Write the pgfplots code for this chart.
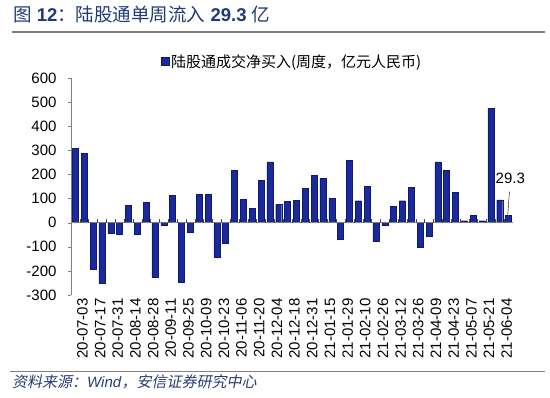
\documentclass[border=0pt]{standalone}
\usepackage{pgfplots}
\usepackage{pgfplotstable}
\pgfplotsset{compat=1.18}
\usepackage{fontspec}
\setmainfont{Liberation Sans}
\newfontfamily\cjk{Noto Sans CJK SC}
\newfontfamily\cjkit[FakeSlant=0.2]{Noto Sans CJK SC}
\definecolor{barblue}{RGB}{26,42,155}
\definecolor{baredge}{RGB}{15,25,110}
\definecolor{titleblue}{RGB}{31,58,120}
\definecolor{srcblue}{RGB}{40,60,115}
\pgfplotstableread{
x y
0 308
1 288
2 -194
3 -252
4 -44
5 -48
6 72
7 -46
8 83
9 -227
10 -10
11 112
12 -249
13 -41
14 116
15 116
16 -143
17 -86
18 218
19 98
20 59
21 176
22 252
23 76
24 88
25 93
26 141
27 196
28 185
29 101
30 -69
31 257
32 91
33 151
34 -76
35 -11
36 69
37 91
38 147
39 -101
40 -55
41 252
42 216
43 127
44 8
45 30
46 8
47 474
48 94
49 29.3
}\datatable
\begin{document}
\begin{tikzpicture}
\useasboundingbox (0pt,0pt) rectangle (550pt,398pt);
\node[anchor=west, text=titleblue, inner sep=0pt] at (13pt,383pt) {\fontsize{18.5}{21}\selectfont{\cjk 图} \textbf{12}{\cjk ：陆股通单周流入} \textbf{29.3} {\cjk 亿}};
\draw[gray, line width=1.2pt] (12pt,366pt) -- (545pt,366pt);
\draw[gray, line width=1pt] (10pt,26pt) -- (545pt,26pt);
\node[anchor=west, text=srcblue, inner sep=0pt] at (12pt,16pt) {\fontsize{15}{17}\selectfont{\cjkit 资料来源：}\textit{Wind}{\cjkit ，安信证券研究中心}};
\begin{axis}[
  at={(71pt,103pt)}, anchor=south west,
  scale only axis, width=442pt, height=217pt,
  xmin=-0.5, xmax=49.5, ymin=-300, ymax=600,
  axis lines*=left,
  axis line style={draw=gray},
  x axis line style={draw=none},
  xtick style={draw=none},
  ytick style={draw=gray},
  ytick align=outside,
  major tick length=3pt,
  ytick={-300,-200,...,600},
  xtick={0,2,...,48},
  xticklabels={20-07-03,20-07-17,20-07-31,20-08-14,20-08-28,20-09-11,20-09-25,20-10-09,20-10-23,20-11-06,20-11-20,20-12-04,20-12-18,20-12-31,21-01-15,21-01-29,21-02-10,21-02-26,21-03-12,21-03-26,21-04-09,21-04-23,21-05-07,21-05-21,21-06-04},
  tick label style={font=\fontsize{15}{17}\selectfont},
  xticklabel style={rotate=90, anchor=east, yshift=-7pt},
  yticklabel style={xshift=-8pt},
  /pgf/number format/assume math mode=true,
  clip=false,
  legend style={at={(0.5,1)}, anchor=south, yshift=6pt, draw=none, fill=none,
    font=\fontsize{15}{17}\selectfont, inner sep=1pt},
  legend image code/.code={\draw[fill=barblue,draw=baredge] (0pt,-4pt) rectangle (8pt,4pt);},
]
\addplot[ybar, bar width=6pt, fill=barblue, draw=baredge] table[x=x,y=y]{\datatable};
\addlegendentry{\cjk 陆股通成交净买入(周度，亿元人民币)}
\draw[gray] (axis cs:-0.5,0) -- (axis cs:49.5,0);
\pgfplotsinvokeforeach{0,...,48}{\draw[gray!60!black] (axis cs:#1+0.5,0) -- ++(0pt,3.5pt);}
\draw[black] (axis cs:48.9,30) -- (axis cs:49.1,129);
\node[font=\fontsize{15}{17}\selectfont] at (axis cs:49.2,185) {29.3};
\end{axis}
\end{tikzpicture}
\end{document}
